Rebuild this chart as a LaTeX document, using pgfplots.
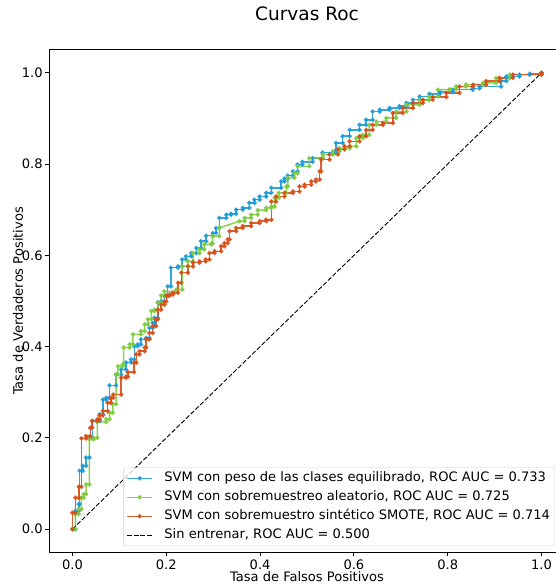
\documentclass[border=0pt]{standalone}
\usepackage{fontspec}
\setmainfont{DejaVu Sans}
\usepackage{pgfplots}
\pgfplotsset{compat=1.18}
\definecolor{cblue}{RGB}{31,157,216}
\definecolor{cgreen}{RGB}{128,204,64}
\definecolor{corange}{RGB}{216,80,26}
\definecolor{lgray}{RGB}{204,204,204}
\begin{document}
\begin{tikzpicture}
\useasboundingbox (0,0) rectangle (556bp,584bp);
\begin{axis}[
  at={(49bp,32bp)}, anchor=south west,
  width=516bp, height=502bp, scale only axis,
  xmin=-0.05, xmax=1.05, ymin=-0.05, ymax=1.05,
  xtick={0,0.2,0.4,0.6,0.8,1.0}, ytick={0,0.2,0.4,0.6,0.8,1.0},
  tick pos=left, tick align=outside,
  major tick length=4.4bp,
  every tick/.style={black, line width=1bp},
  axis line style={black, line width=1bp},
  /pgf/number format/assume math mode=true,
  /pgf/number format/.cd, fixed, fixed zerofill, precision=1, /pgfplots/.cd,
  ticklabel style={font=\fontsize{13.1}{15.5}\selectfont},
  yticklabel style={xshift=1.5bp},
  title={Curvas Roc},
  title style={at={(axis description cs:0.5,1.0598)}, anchor=center, font=\fontsize{18.6}{21}\selectfont},
  xlabel={Tasa de Falsos Positivos},
  ylabel={Tasa de Verdaderos Positivos},
  xlabel style={at={(axis description cs:0.5,-0.0498)}, anchor=center, font=\fontsize{13.1}{15.5}\selectfont},
  ylabel style={at={(axis description cs:-0.0601,0.5)}, anchor=center, font=\fontsize{13.1}{15.5}\selectfont},
  legend cell align=left,
  legend style={at={(axis description cs:0.980,0.012)}, anchor=south east,
    draw=lgray, rounded corners=2bp, fill=white, fill opacity=0.8, text opacity=1,
    font=\fontsize{13.1}{15.5}\selectfont, inner sep=3bp, row sep=4bp,
    nodes={inner sep=1.5bp, text height=9.5bp, text depth=2.5bp}},
  legend image code/.code={\draw[mark repeat=2,mark phase=2] plot coordinates {(0bp,0bp) (12.5bp,0bp) (25bp,0bp)}; \path (35bp,0bp);},
  every axis plot/.append style={line width=1.5bp},
]
\addplot[cblue, mark=*, mark size=1.4bp, opacity=0.9] coordinates {
(0,0) (0.0064,0) (0.0064,0.040) (0.0135,0.040) (0.0135,0.055) (0.015,0.055) (0.015,0.128) (0.022,0.128) (0.022,0.139) (0.029,0.139) (0.029,0.157) (0.036,0.157) (0.036,0.200) (0.043,0.200) (0.043,0.237) (0.058,0.237) (0.058,0.252) (0.065,0.252) (0.065,0.284) (0.072,0.284) (0.072,0.288) (0.079,0.288) (0.079,0.315) (0.093,0.315) (0.093,0.339) (0.104,0.339) (0.104,0.350) (0.114,0.350) (0.114,0.365) (0.125,0.365) (0.125,0.372) (0.132,0.372) (0.132,0.401) (0.139,0.401) (0.139,0.405) (0.146,0.405) (0.146,0.416) (0.157,0.416) (0.157,0.419) (0.164,0.419) (0.164,0.441) (0.171,0.441) (0.171,0.452) (0.175,0.452) (0.175,0.463) (0.182,0.463) (0.182,0.497) (0.189,0.497) (0.189,0.499) (0.196,0.499) (0.196,0.510) (0.203,0.510) (0.203,0.532) (0.210,0.532) (0.210,0.573) (0.225,0.573) (0.225,0.576) (0.234,0.576) (0.234,0.591) (0.242,0.591) (0.242,0.598) (0.253,0.598) (0.253,0.605) (0.264,0.605) (0.264,0.616) (0.274,0.616) (0.274,0.631) (0.285,0.631) (0.285,0.643) (0.299,0.643) (0.299,0.649) (0.306,0.649) (0.306,0.660) (0.313,0.660) (0.313,0.682) (0.328,0.682) (0.328,0.689) (0.338,0.689) (0.338,0.691) (0.349,0.691) (0.349,0.700) (0.363,0.700) (0.363,0.704) (0.377,0.704) (0.377,0.715) (0.388,0.715) (0.388,0.722) (0.399,0.722) (0.399,0.729) (0.413,0.729) (0.413,0.737) (0.424,0.737) (0.424,0.748) (0.445,0.748) (0.445,0.762) (0.452,0.762) (0.452,0.768) (0.459,0.768) (0.459,0.775) (0.470,0.775) (0.470,0.784) (0.480,0.784) (0.480,0.799) (0.490,0.799) (0.490,0.805) (0.512,0.805) (0.512,0.813) (0.533,0.813) (0.533,0.825) (0.559,0.825) (0.559,0.828) (0.562,0.828) (0.562,0.846) (0.576,0.846) (0.576,0.861) (0.591,0.861) (0.591,0.875) (0.612,0.875) (0.612,0.886) (0.626,0.886) (0.626,0.897) (0.640,0.897) (0.640,0.915) (0.655,0.915) (0.655,0.919) (0.676,0.919) (0.676,0.923) (0.697,0.923) (0.697,0.927) (0.712,0.927) (0.712,0.934) (0.726,0.934) (0.726,0.941) (0.740,0.941) (0.740,0.948) (0.761,0.948) (0.761,0.954) (0.783,0.954) (0.783,0.958) (0.811,0.958) (0.811,0.963) (0.853,0.963) (0.853,0.966) (0.868,0.966) (0.868,0.970) (0.914,0.970) (0.914,0.982) (0.925,0.982) (0.925,0.992) (0.953,0.992) (0.953,0.996) (0.975,0.996) (0.975,0.998) (1.0,0.998) (1.0,1.0)
};
\addlegendentry{SVM con peso de las clases equilibrado, ROC AUC = 0.733}
\addplot[cgreen, mark=*, mark size=1.4bp, opacity=0.9] coordinates {
(0,0) (0.0064,0) (0.0064,0.033) (0.0135,0.033) (0.0135,0.044) (0.019,0.044) (0.019,0.069) (0.024,0.069) (0.024,0.077) (0.029,0.077) (0.029,0.098) (0.036,0.098) (0.036,0.197) (0.045,0.197) (0.045,0.200) (0.053,0.200) (0.053,0.235) (0.072,0.235) (0.072,0.241) (0.079,0.241) (0.079,0.255) (0.086,0.255) (0.086,0.274) (0.093,0.274) (0.093,0.339) (0.097,0.339) (0.097,0.357) (0.107,0.357) (0.107,0.361) (0.109,0.361) (0.109,0.398) (0.122,0.398) (0.122,0.405) (0.129,0.405) (0.129,0.427) (0.146,0.427) (0.146,0.434) (0.154,0.434) (0.154,0.449) (0.161,0.449) (0.161,0.460) (0.168,0.460) (0.168,0.478) (0.175,0.478) (0.175,0.481) (0.182,0.481) (0.182,0.496) (0.189,0.496) (0.189,0.512) (0.196,0.512) (0.196,0.521) (0.221,0.521) (0.221,0.525) (0.234,0.525) (0.234,0.576) (0.246,0.576) (0.246,0.587) (0.257,0.587) (0.257,0.605) (0.271,0.605) (0.271,0.613) (0.281,0.613) (0.281,0.624) (0.296,0.624) (0.296,0.626) (0.299,0.626) (0.299,0.642) (0.313,0.642) (0.313,0.660) (0.356,0.675) (0.367,0.675) (0.367,0.682) (0.381,0.682) (0.381,0.689) (0.395,0.689) (0.395,0.699) (0.413,0.699) (0.413,0.704) (0.424,0.704) (0.424,0.707) (0.431,0.707) (0.431,0.726) (0.440,0.726) (0.440,0.737) (0.456,0.737) (0.456,0.751) (0.459,0.751) (0.459,0.770) (0.473,0.770) (0.473,0.780) (0.480,0.780) (0.480,0.795) (0.505,0.795) (0.505,0.813) (0.534,0.813) (0.534,0.821) (0.555,0.821) (0.555,0.828) (0.569,0.828) (0.569,0.835) (0.591,0.835) (0.591,0.839) (0.605,0.839) (0.605,0.857) (0.619,0.857) (0.619,0.864) (0.633,0.864) (0.633,0.886) (0.648,0.886) (0.648,0.893) (0.669,0.893) (0.669,0.901) (0.690,0.901) (0.690,0.915) (0.712,0.915) (0.712,0.930) (0.740,0.930) (0.740,0.940) (0.760,0.940) (0.760,0.948) (0.779,0.948) (0.779,0.963) (0.804,0.963) (0.804,0.964) (0.818,0.964) (0.818,0.970) (0.839,0.970) (0.839,0.974) (0.875,0.974) (0.875,0.978) (0.903,0.978) (0.903,0.988) (0.932,0.988) (0.932,0.996) (1,0.996) (1,1)
};
\addlegendentry{SVM con sobremuestreo aleatorio, ROC AUC = 0.725}
\addplot[corange, mark=*, mark size=1.4bp, opacity=0.9] coordinates {
(0,0) (0,0.036) (0.0064,0.036) (0.0064,0.069) (0.0135,0.069) (0.0135,0.093) (0.019,0.093) (0.019,0.199) (0.029,0.199) (0.029,0.204) (0.038,0.204) (0.038,0.222) (0.042,0.222) (0.042,0.237) (0.053,0.237) (0.053,0.241) (0.058,0.241) (0.058,0.249) (0.065,0.249) (0.065,0.259) (0.075,0.259) (0.075,0.277) (0.082,0.277) (0.082,0.288) (0.087,0.288) (0.087,0.295) (0.104,0.295) (0.104,0.332) (0.114,0.332) (0.114,0.334) (0.118,0.334) (0.118,0.344) (0.131,0.344) (0.131,0.365) (0.136,0.365) (0.136,0.383) (0.143,0.383) (0.143,0.390) (0.154,0.390) (0.154,0.398) (0.157,0.398) (0.157,0.416) (0.164,0.416) (0.164,0.430) (0.171,0.430) (0.171,0.445) (0.178,0.445) (0.178,0.460) (0.182,0.460) (0.182,0.481) (0.189,0.481) (0.189,0.492) (0.196,0.492) (0.196,0.499) (0.200,0.499) (0.200,0.512) (0.207,0.512) (0.207,0.514) (0.214,0.514) (0.214,0.518) (0.225,0.518) (0.225,0.540) (0.232,0.540) (0.232,0.562) (0.246,0.562) (0.246,0.576) (0.257,0.576) (0.257,0.584) (0.271,0.584) (0.271,0.587) (0.284,0.587) (0.284,0.591) (0.292,0.591) (0.292,0.605) (0.303,0.605) (0.303,0.609) (0.317,0.609) (0.317,0.620) (0.324,0.620) (0.324,0.627) (0.331,0.627) (0.331,0.635) (0.335,0.635) (0.335,0.653) (0.349,0.653) (0.349,0.660) (0.363,0.660) (0.363,0.664) (0.381,0.664) (0.381,0.671) (0.399,0.671) (0.399,0.675) (0.413,0.675) (0.413,0.678) (0.424,0.678) (0.424,0.718) (0.434,0.718) (0.434,0.729) (0.452,0.729) (0.452,0.737) (0.470,0.737) (0.470,0.740) (0.484,0.740) (0.484,0.751) (0.495,0.751) (0.495,0.755) (0.509,0.755) (0.509,0.762) (0.519,0.762) (0.519,0.766) (0.527,0.766) (0.527,0.784) (0.530,0.784) (0.530,0.810) (0.548,0.810) (0.548,0.821) (0.566,0.821) (0.566,0.832) (0.580,0.832) (0.580,0.839) (0.591,0.839) (0.591,0.850) (0.612,0.850) (0.612,0.861) (0.626,0.861) (0.626,0.875) (0.640,0.875) (0.640,0.886) (0.662,0.886) (0.662,0.890) (0.683,0.890) (0.683,0.912) (0.704,0.912) (0.704,0.923) (0.726,0.923) (0.726,0.934) (0.747,0.934) (0.747,0.941) (0.768,0.941) (0.768,0.947) (0.797,0.947) (0.797,0.956) (0.825,0.956) (0.825,0.970) (0.854,0.970) (0.854,0.974) (0.882,0.974) (0.882,0.982) (0.910,0.982) (0.910,0.989) (0.939,0.989) (0.939,0.996) (1,0.996) (1,1)
};
\addlegendentry{SVM con sobremuestro sintético SMOTE, ROC AUC = 0.714}
\addplot[black, line width=0.9bp, dash pattern=on 4.6bp off 2bp, no marks, opacity=1] coordinates {(0,0) (1,1)};
\addlegendentry{Sin entrenar, ROC AUC = 0.500}
\end{axis}
\end{tikzpicture}
\end{document}
